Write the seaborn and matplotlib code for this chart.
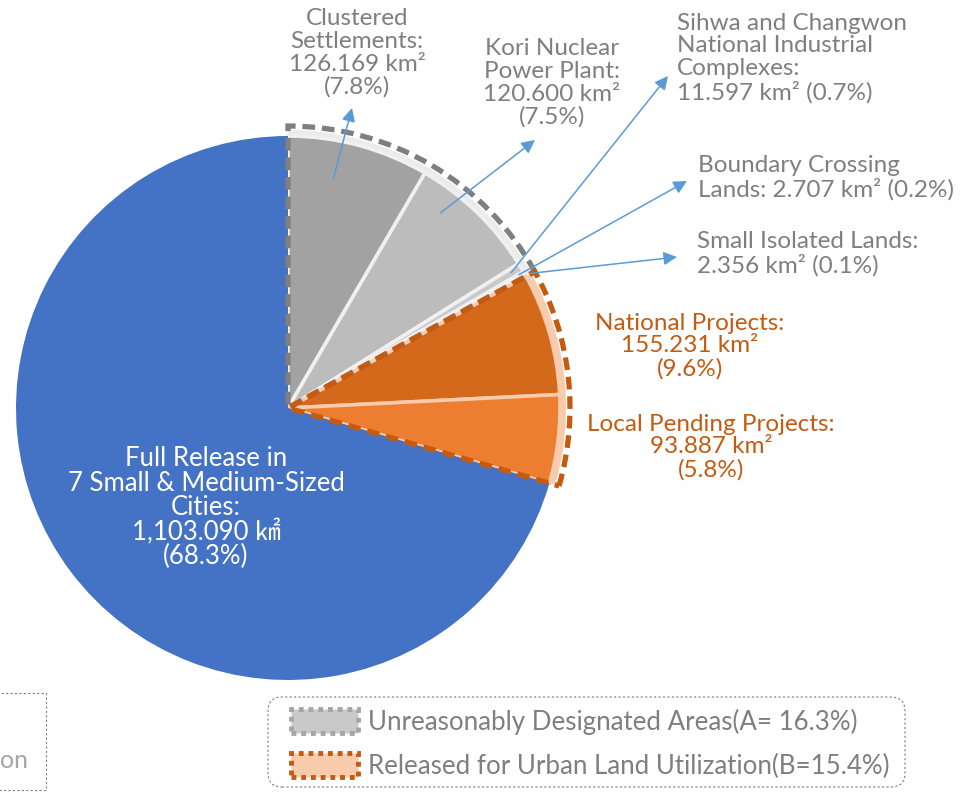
import matplotlib
matplotlib.use("Agg")
import numpy as np
import matplotlib.pyplot as plt
import seaborn as sns
from matplotlib.patches import Patch, Rectangle, FancyBboxPatch

# Slices, clockwise from 12 o'clock
names = ["Clustered Settlements", "Kori Nuclear Power Plant",
         "Sihwa and Changwon National Industrial Complexes",
         "Boundary Crossing Lands", "Small Isolated Lands",
         "National Projects", "Local Pending Projects",
         "Full Release in 7 Small & Medium-Sized Cities"]
areas = [126.169, 120.600, 11.597, 2.707, 2.356, 155.231, 93.887, 1103.090]
pcts = [7.8, 7.5, 0.7, 0.2, 0.1, 9.6, 5.8, 68.3]
# slice sizes as actually drawn in the picture (percent of the circle)
drawn_share = [8.4, 7.7, 0.55, 0.18, 0.13, 7.25, 5.25, 70.54]
groups = ["Unreasonably Designated Areas", "Released for Urban Land Utilization", "Full Release"]
group_of = [0, 0, 0, 0, 0, 1, 1, 2]
group_pct = ["A= 16.3%", "B=15.4%"]

label_text = [
    "Clustered\nSettlements:\n{a:.3f} km²\n({p:.1f}%)",
    "Kori Nuclear\nPower Plant:\n{a:.3f} km²\n({p:.1f}%)",
    "Sihwa and Changwon\nNational Industrial\nComplexes:\n{a:.3f} km² ({p:.1f}%)",
    "Boundary Crossing\nLands: {a:.3f} km² ({p:.1f}%)",
    "Small Isolated Lands:\n{a:.3f} km² ({p:.1f}%)",
    "National Projects:\n{a:.3f} km²\n({p:.1f}%)",
    "Local Pending Projects:\n{a:.3f} km²\n({p:.1f}%)",
    "Full Release in\n7 Small & Medium-Sized\nCities:\n{a:,.3f} ㎢\n({p:.1f}%)",
]

sns.set_style("white")
plt.rcParams['font.family'] = ['Lato', 'Noto Sans CJK KR', 'DejaVu Sans']

W, H = 961, 797
fig = plt.figure(figsize=(W / 100, H / 100), dpi=100)
ax = fig.add_axes([0, 0, 1, 1])

cx, cy, R = 288, H - 408, 272
slice_colors = ["#A2A2A2", "#BCBCBC", "#C9C9C9", "#D6D6D6", "#B5B5B5",
                "#D4691C", "#ED7D31", "#4472C4"]
edge_colors = ["#F0F0F0"] * 5 + ["#F8CBAD"] * 2 + ["none"]
rim_colors = ["#EBEBEB", "#F8CBAD", "none"]
dash_colors = ["#7F7F7F", "#C55A11", "none"]

group_share = [sum(s for s, g in zip(drawn_share, group_of) if g == k) for k in range(3)]

# light rim around the two groups
ax.pie(group_share, colors=rim_colors, startangle=90, counterclock=False,
       radius=R + 6, center=(cx, cy), wedgeprops=dict(width=10, linewidth=0))

# main slices
wedges, _ = ax.pie(drawn_share, colors=slice_colors, startangle=90, counterclock=False,
                   radius=R, center=(cx, cy), wedgeprops=dict(linewidth=2.6))
for w, ec in zip(wedges, edge_colors):
    w.set_edgecolor(ec)

# dashed group outlines
outl, _ = ax.pie(group_share, colors=["none"] * 3, startangle=90, counterclock=False,
                 radius=R + 10, center=(cx, cy),
                 wedgeprops=dict(fill=False, linewidth=3.8, linestyle=(0, (2.4, 1.3))))
for w, ec in zip(outl, dash_colors):
    w.set_edgecolor(ec)

ax.set_xlim(0, W)
ax.set_ylim(0, H)
ax.set_aspect('equal')
ax.axis('off')

# labels: x, y (pixels from top), alignment, colour, size, line spacing
gray_txt, orange_txt = "#7F7F7F", "#C55A11"
label_pos = [(357, 53, "center", gray_txt, 17.5, 1.1), (552, 83, "center", gray_txt, 17.5, 1.1),
             (677, 58, "left", gray_txt, 17.5, 1.1), (698, 178, "left", gray_txt, 17.5, 1.1),
             (697, 254, "left", gray_txt, 17.5, 1.1), (690, 346, "center", orange_txt, 17.5, 1.1),
             (711, 447, "center", orange_txt, 17.5, 1.1), (206, 508, "center", "white", 18.5, 0.96)]
for txt, a, p, (x, y, ha, c, fs, ls) in zip(label_text, areas, pcts, label_pos):
    ax.text(x, H - y, txt.format(a=a, p=p), ha=ha, va="center", multialignment=ha,
            color=c, fontsize=fs, linespacing=ls)

# leader arrows for the gray slices: (fraction down the wedge from its top edge, radius fraction), head
arrow_tail = [(0.37, 0.86), (0.28, 0.91), (0.4, 0.96), (0.1, 0.98), (0.8, 1.02)]
arrow_head = [(352, 108), (535, 140), (668, 76), (687, 181), (677, 257)]
for w, (f, rf), (hx, hy) in zip(wedges[:5], arrow_tail, arrow_head):
    th = np.deg2rad(w.theta2 - f * (w.theta2 - w.theta1))
    tx, ty = cx + rf * R * np.cos(th), cy + rf * R * np.sin(th)
    ax.annotate("", xy=(hx, H - hy), xytext=(tx, ty),
                arrowprops=dict(arrowstyle="-|>", color="#5B9BD5", lw=1.1,
                                mutation_scale=20, shrinkA=0, shrinkB=0))

# legend (frame drawn separately so its padding can differ from the entries')
ax.add_patch(FancyBboxPatch((268, H - 787), 637, 90, boxstyle="round,pad=0,rounding_size=14",
                            facecolor="white", edgecolor="#7F7F7F", linewidth=0.8,
                            linestyle=(0, (2, 2))))
handles = [Patch(facecolor="#C9C9C9", edgecolor="#A6A6A6", linestyle=(0, (1, 1)), linewidth=3.5),
           Patch(facecolor="#F8CBAD", edgecolor="#C55A11", linestyle=(0, (1, 1)), linewidth=3.5)]
labels = [f"{groups[0]}({group_pct[0]})", f"{groups[1]}({group_pct[1]})"]
leg = fig.legend(handles, labels, loc="upper left", bbox_to_anchor=(279 / W, 1 - 697 / H),
                 borderaxespad=0, fontsize=18.6, handlelength=2.6, handleheight=1.05,
                 handletextpad=0.4, labelspacing=0.7, borderpad=0.45, labelcolor="#7F7F7F",
                 frameon=False)

# cut-off box at the lower left
ax.add_patch(Rectangle((-60, H - 790), 106, 97, fill=False, edgecolor="#7F7F7F",
                       linestyle=(0, (2, 2)), linewidth=0.8))
ax.text(0, H - 760, "on", ha="left", va="center", color="#A6A6A6", fontsize=18)

fig.savefig("out.png", dpi=100)
